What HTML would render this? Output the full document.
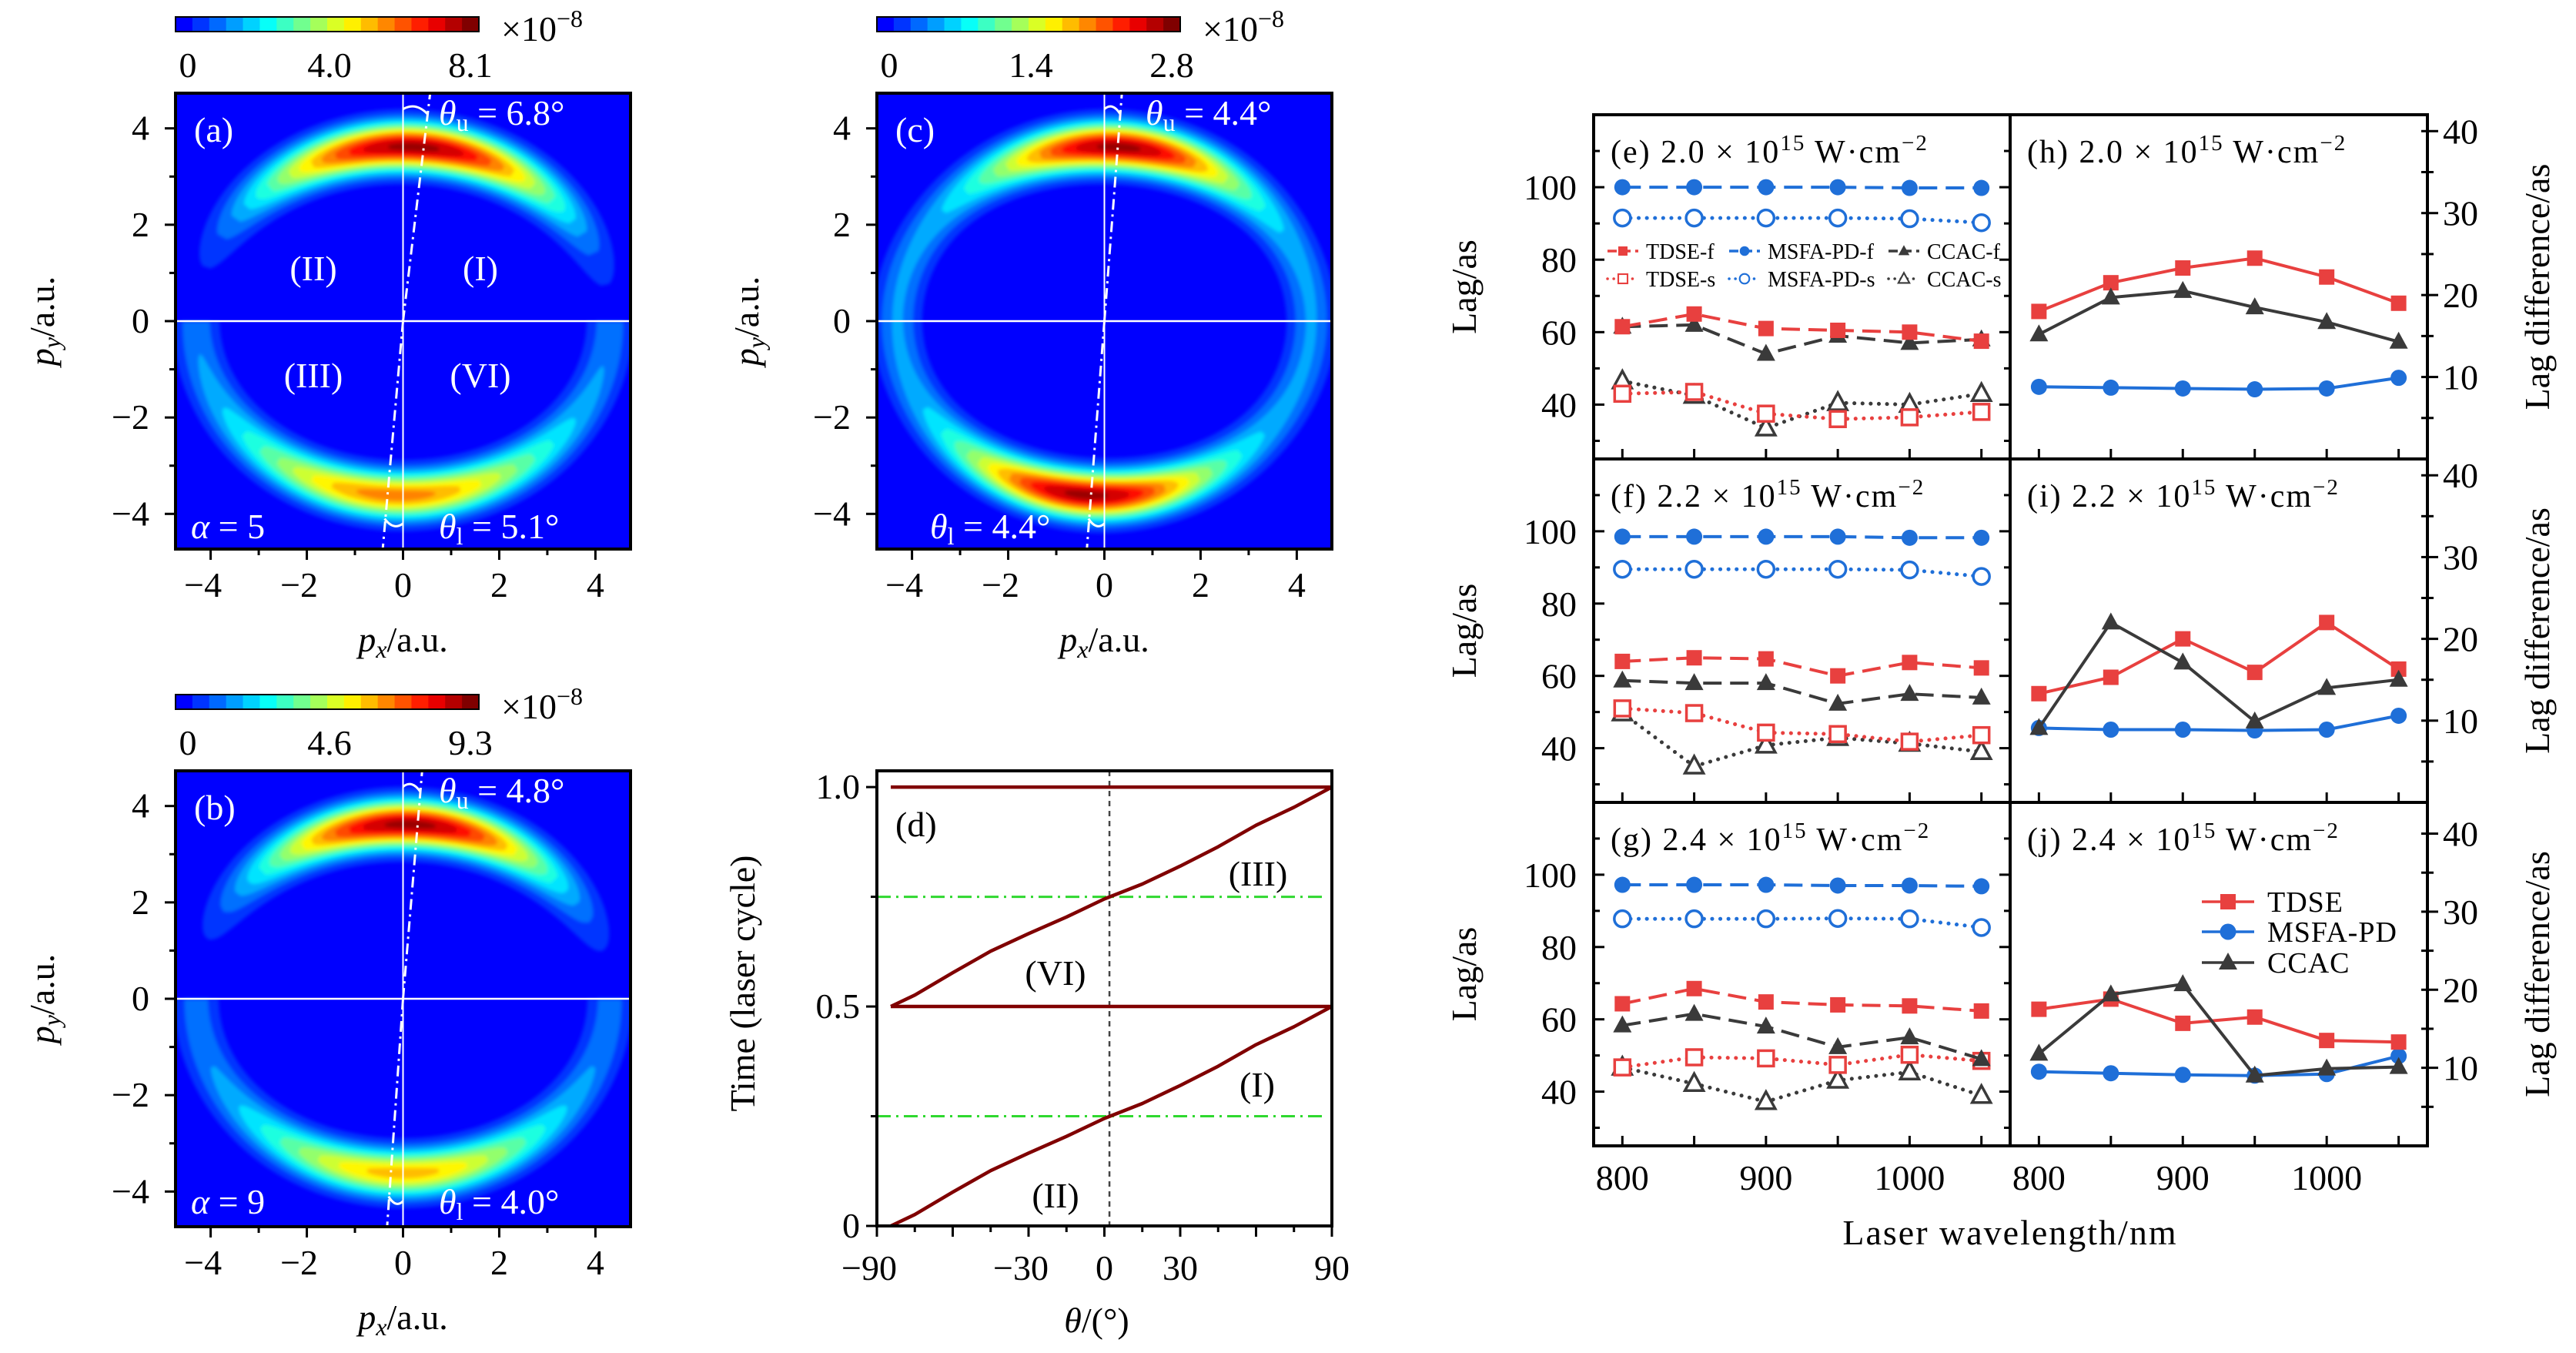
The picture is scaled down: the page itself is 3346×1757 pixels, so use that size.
<!DOCTYPE html>
<html><head><meta charset="utf-8">
<style>
html,body{margin:0;padding:0;background:#fff;}
svg{display:block;font-family:"Liberation Serif",serif;}
</style></head>
<body>
<svg id="root" xmlns="http://www.w3.org/2000/svg" width="3346" height="1757" viewBox="0 0 3346 1757">
<rect x="0" y="0" width="3346" height="1757" fill="#fff"/>
<defs>
<filter id="blr" x="-5%" y="-5%" width="110%" height="110%"><feGaussianBlur stdDeviation="2.5"/></filter>
<clipPath id="clipA"><rect x="228" y="121" width="591" height="592"/></clipPath>
<clipPath id="clipB"><rect x="228" y="1001" width="591" height="591"/></clipPath>
<clipPath id="clipC"><rect x="1139" y="121" width="591" height="592"/></clipPath>
</defs>
<g id="gA"></g>
<g id="gB"></g>
<g id="gC"></g>
<g id="gD"></g>
<g id="gR"></g>
</svg>
<script>
// ---------- data ----------
const wl=[800,850,900,950,1000,1050];
// (e)
const eTdseF=[61.5,65,61,60.5,60,57.5];
const eMsfaF=[100,100,100,100,99.8,99.8];
const eCcacF=[61.5,62,54,59,57,58];
const eTdseS=[43,43.5,37.5,36,36.5,38];
const eMsfaS=[91.5,91.5,91.5,91.5,91.3,90.2];
const eCcacS=[46.5,42.5,33.5,40.5,40,43];
// (f)
const fTdseF=[64,65,64.7,60,63.7,62.2];
const fMsfaF=[98.5,98.5,98.5,98.5,98.2,98.2];
const fCcacF=[58.7,58,58,52.3,55,54];
const fTdseS=[51,49.7,44.3,43.9,41.8,43.6];
const fMsfaS=[89.5,89.5,89.5,89.5,89.3,87.5];
const fCcacS=[49.7,35,40.8,42.9,41.3,39];
// (g)
const gTdseF=[64.3,68.5,64.8,64,63.7,62.3];
const gMsfaF=[97.2,97.2,97.2,97,97,96.8];
const gCcacF=[58.3,61.5,58,52.3,55,49];
const gTdseS=[46.7,49.5,49.2,47.4,50.2,48.5];
const gMsfaS=[87.8,87.8,87.8,87.9,87.8,85.4];
const gCcacS=[46.7,42.2,37.2,43.1,45.4,38.9];
// (h)(i)(j) lag differences
const hTdse=[18,21.5,23.3,24.5,22.2,19];
const hMsfa=[8.8,8.7,8.6,8.5,8.6,9.9];
const hCcac=[15.2,19.7,20.5,18.5,16.7,14.3];
const iTdse=[13.3,15.3,20,15.9,22,16.3];
const iMsfa=[9.1,8.9,8.9,8.8,8.9,10.6];
const iCcac=[9.1,22,17.1,9.9,14,15];
const jTdse=[17.5,18.8,15.7,16.5,13.5,13.3];
const jMsfa=[9.5,9.3,9.1,9,9.2,11.5];
const jCcac=[11.8,19.4,20.7,9,9.9,10.1];
const lagTicks=[40,60,80,100];
const diffTicks=[10,20,30,40];
const wlTicks=[800,900,1000];
// (d)
const dTheta=[-84.5,-75,-60,-45,-30,-15,0,15,30,45,60,75,90];
const dTime=[0,0.026,0.077,0.126,0.166,0.204,0.245,0.279,0.32,0.364,0.413,0.454,0.5];
const dThetaTicks=[-90,-30,0,30,90];
const dTimeTicks=[0,0.5,1.0];
// heatmap colorbar labels
const cbA=["0","4.0","8.1"], cbB=["0","4.6","9.3"], cbC=["0","1.4","2.8"];

const NS='http://www.w3.org/2000/svg';
function mk(tag,attrs,parent){const e=document.createElementNS(NS,tag);for(const k in attrs)e.setAttribute(k,attrs[k]);parent.appendChild(e);return e;}
function txt(parent,x,y,s,size,anchor,fill,extra){const t=mk('text',{x:x,y:y,'font-size':size,'text-anchor':anchor||'start',fill:fill||'#000'},parent);t.innerHTML=s;if(extra)for(const k in extra)t.setAttribute(k,extra[k]);return t;}
function jet(v){const c=x=>Math.max(0,Math.min(1,x));const r=c(1.5-Math.abs(4*v-3)),g=c(1.5-Math.abs(4*v-2)),b=c(1.5-Math.abs(4*v-1));return 'rgb('+Math.round(r*255)+','+Math.round(g*255)+','+Math.round(b*255)+')';}

// ---------- heatmaps ----------
function heatmap(g,o){
  const X0=o.x0,Y0=o.y0,W=591,H=592;
  const sx=W/9.46, sy=H/9.46;
  const X=v=>X0+(v+4.73)*sx, Y=v=>Y0+(4.73-v)*sy;
  const bg=mk('rect',{x:X0,y:Y0,width:W,height:H,fill:jet(0.125)},g);
  
  
  const hg=mk('g',{'clip-path':'url(#'+o.clip+')'},g);
  
  
  const inner=mk('g',{filter:'url(#blr)'},hg);
  const rx=4.3, ry=3.62, sig=0.33;
  const levels=[];for(let t=0.06;t<0.99;t+=0.065)levels.push(t);
  [[0,180,o.up],[180,360,o.lo]].forEach(arc=>{
    levels.forEach(t=>{
      const outer=[],inn=[];
      for(let a=arc[0];a<=arc[1];a+=1){
        const I=arc[2](a); if(I<=t)continue;
        const h=sig*Math.sqrt(2*Math.log(I/t));
        const r=a*Math.PI/180;
        outer.push([X((rx+h)*Math.cos(r)),Y((ry+h)*Math.sin(r))]);
        inn.push([X((rx-h)*Math.cos(r)),Y((ry-h)*Math.sin(r))]);
      }
      if(outer.length<2)return;
      const pts=outer.concat(inn.reverse()).map(p=>p[0].toFixed(1)+','+p[1].toFixed(1)).join(' ');
      const pg=mk('polygon',{points:pts,fill:jet(0.125+0.875*t)},inner);
      
      
    });
  });
  const l1=mk('line',{x1:X0,x2:X0+W,y1:Y(0),y2:Y(0),stroke:'#fff','stroke-width':2.5},hg);
  
  
  const l2=mk('line',{x1:X(0),x2:X(0),y1:Y0,y2:Y0+H,stroke:'#fff','stroke-width':2},hg);
  
  
  const tu=Math.tan(o.tu*Math.PI/180), tl=Math.tan(o.tl*Math.PI/180);
  const l3=mk('line',{x1:X(0),y1:Y(0),x2:X(4.8*tu),y2:Y(4.8),stroke:'#fff','stroke-width':3,'stroke-dasharray':'14,6,3,6'},hg);
  
  
  const l4=mk('line',{x1:X(0),y1:Y(0),x2:X(-4.8*tl),y2:Y(-4.8),stroke:'#fff','stroke-width':3,'stroke-dasharray':'14,6,3,6'},hg);
  
  
  const a1=mk('path',{d:'M'+X(0)+','+Y(4.4)+' Q'+X(2.2*tu)+','+Y(4.55)+' '+X(4.25*tu)+','+Y(4.3),fill:'none',stroke:'#fff','stroke-width':3},hg);
  
  
  const a2=mk('path',{d:'M'+X(0)+','+Y(-4.2)+' Q'+X(-2.2*tl)+','+Y(-4.35)+' '+X(-4.3*tl)+','+Y(-4.1),fill:'none',stroke:'#fff','stroke-width':3},hg);
  
  
  const fr=mk('rect',{x:X0,y:Y0,width:W,height:H,fill:'none',stroke:'#000','stroke-width':4},g);
  
  
  for(let v=-4;v<=4;v++){
    const L=(v%2===0)?14:8;
    const ty=mk('line',{x1:X0-L,x2:X0,y1:Y(v),y2:Y(v),stroke:'#000','stroke-width':3},g);
    
    
    const tx=mk('line',{x1:X(v),x2:X(v),y1:Y0+H,y2:Y0+H+L,stroke:'#000','stroke-width':3},g);
    
    
    if(v%2===0){
      const s=v<0?'−'+(-v):''+v;
      const yl=txt(g,X0-34,Y(v)+15,s,46,'end');
      
      
      const xl=txt(g,X(v)-(v<0?10:0),Y0+H+62,s,46,'middle');
      
      
    }
  }
  const xt=txt(g,X(0),Y0+H+133,'<tspan font-style="italic">p</tspan><tspan font-style="italic" font-size="32" dy="8">x</tspan><tspan dy="-8">/a.u.</tspan>',46,'middle');
  
  
  const yx=o.ytx, yy=Y0+H/2;
  const yt=txt(g,yx,yy,'<tspan font-style="italic">p</tspan><tspan font-style="italic" font-size="32" dy="8">y</tspan><tspan dy="-8">/a.u.</tspan>',46,'middle',null,{transform:'rotate(-90 '+yx+' '+yy+')'});
  
  
  const cg=mk('g',{},g);
  
  
  const cw=394, cy=Y0-99, ch=19, n=18;
  for(let i=0;i<n;i++){
    const c=mk('rect',{x:X0+i*cw/n,y:cy,width:cw/n+0.6,height:ch,fill:jet(0.125+0.875*i/(n-1))},cg);
    
    
  }
  const cf=mk('rect',{x:X0,y:cy,width:cw,height:ch,fill:'none',stroke:'#000','stroke-width':2},cg);
  
  
  const cx=[X0+16,X0+200,X0+383];
  o.cb.forEach((s,i)=>{
    const t=txt(cg,cx[i],cy+78,s,46,'middle');
    
    
  });
  const ex=txt(cg,X0+423,cy+31,'×10<tspan font-size="32" dy="-18">−8</tspan>',46,'start');
  
  
  o.labels.forEach(L=>{
    const t=txt(g,L[0],L[1],L[2],46,L[3]||'start','#fff');
    
    
  });
}
heatmap(document.getElementById('gA'),{x0:228,y0:121,clip:'clipA',ytx:70,tu:6.8,tl:5.1,cb:cbA,
  up:a=>1.0*Math.exp(-Math.pow((a-87)/45,2)),
  lo:a=>0.17+0.58*Math.exp(-Math.pow((a-268)/42,2)),
  labels:[[252,184,'(a)','start','panel-label'],[407,364,'(II)','middle','region-label'],[624,364,'(I)','middle','region-label'],
  [407,503,'(III)','middle','region-label'],[624,503,'(VI)','middle','region-label'],
  [570,162,'<tspan font-style="italic">θ</tspan><tspan font-size="32" dy="8">u</tspan><tspan dy="-8"> = 6.8°</tspan>','start','theta-u-label'],
  [248,699,'<tspan font-style="italic">α</tspan> = 5','start','alpha-label'],
  [570,699,'<tspan font-style="italic">θ</tspan><tspan font-size="32" dy="8">l</tspan><tspan dy="-8"> = 5.1°</tspan>','start','theta-l-label']]});
heatmap(document.getElementById('gB'),{x0:228,y0:1001,clip:'clipB',ytx:70,tu:4.8,tl:4.0,cb:cbB,
  up:a=>1.0*Math.exp(-Math.pow((a-88)/43,2)),
  lo:a=>0.16+0.52*Math.exp(-Math.pow((a-270)/40,2)),
  labels:[[252,1064,'(b)','start','panel-label'],
  [570,1042,'<tspan font-style="italic">θ</tspan><tspan font-size="32" dy="8">u</tspan><tspan dy="-8"> = 4.8°</tspan>','start','theta-u-label'],
  [248,1576,'<tspan font-style="italic">α</tspan> = 9','start','alpha-label'],
  [570,1576,'<tspan font-style="italic">θ</tspan><tspan font-size="32" dy="8">l</tspan><tspan dy="-8"> = 4.0°</tspan>','start','theta-l-label']]});
heatmap(document.getElementById('gC'),{x0:1139,y0:121,clip:'clipC',ytx:985,tu:4.4,tl:4.4,cb:cbC,
  up:a=>0.2+0.8*Math.exp(-Math.pow((a-86)/34,2)),
  lo:a=>0.2+0.8*Math.exp(-Math.pow((a-265)/34,2)),
  labels:[[1163,184,'(c)','start','panel-label'],
  [1488,162,'<tspan font-style="italic">θ</tspan><tspan font-size="32" dy="8">u</tspan><tspan dy="-8"> = 4.4°</tspan>','start','theta-u-label'],
  [1208,699,'<tspan font-style="italic">θ</tspan><tspan font-size="32" dy="8">l</tspan><tspan dy="-8"> = 4.4°</tspan>','start','theta-l-label']]});

// ---------- panel d ----------
(function(){
  const g=document.getElementById('gD');
  const x0=1139,x1=1730,y0=1001,y1=1592;
  const X=v=>x0+(v+90)/180*(x1-x0), Y=v=>y1-v/1.037*(y1-y0);
  const ln=(a,b,c,d,st,w,da,name)=>{const l=mk('line',{x1:a,y1:b,x2:c,y2:d,stroke:st,'stroke-width':w},g);if(da)l.setAttribute('stroke-dasharray',da);return l;};
  ln(x0,Y(0.25),x1-8,Y(0.25),'#2fd82f',3,'18,7,3,7','quarter-cycle-line');
  ln(x0,Y(0.75),x1-8,Y(0.75),'#2fd82f',3,'18,7,3,7','three-quarter-cycle-line');
  ln(X(2),y0,X(2),y1,'#444',2.5,'7,6','zero-angle-line');
  const mkCurve=(off,name)=>{
    const pts=dTheta.map((t,i)=>X(t).toFixed(1)+','+Y(dTime[i]+off).toFixed(1)).join(' ');
    const p=mk('polyline',{points:pts,fill:'none',stroke:'#800000','stroke-width':4.5,'stroke-linejoin':'round'},g);
    
    
  };
  mkCurve(0,'ionization-time-curve-lower');
  mkCurve(0.5,'ionization-time-curve-upper');
  ln(X(dTheta[0]),Y(0.5),x1,Y(0.5),'#800000',4.5,null,'half-cycle-line');
  ln(X(dTheta[0]),Y(1.0),x1,Y(1.0),'#800000',4.5,null,'full-cycle-line');
  const fr=mk('rect',{x:x0,y:y0,width:x1-x0,height:y1-y0,fill:'none',stroke:'#000','stroke-width':4},g);
  
  
  for(let v=-90;v<=90;v+=15){
    const L=(v%30===0)?14:8;
    ln(X(v),y1,X(v),y1+L,'#000',3,null,'x-tick');
  }
  dThetaTicks.forEach(v=>{
    const t=txt(g,X(v)-(v<0?10:0),y1+70,v<0?'−'+(-v):''+v,46,'middle');
    
    
  });
  [0,0.25,0.5,0.75,1.0].forEach(v=>ln(x0-((v*2)%1===0?14:8),Y(v),x0,Y(v),'#000',3,null,'y-tick'));
  dTimeTicks.forEach(v=>{
    const t=txt(g,x0-22,Y(v)+15,v===0?'0':v.toFixed(1),46,'end');
    
    
  });
  const xt=txt(g,(x0+x1)/2-10,1730,'<tspan font-style="italic">θ</tspan>/(°)',46,'middle');
  
  
  const yt=txt(g,980,1277,'Time (laser cycle)',46,'middle',null,{transform:'rotate(-90 980 1277)'});
  
  
  [[1163,1086,'(d)','panel-label'],[1634,1150,'(III)','region-label'],[1371,1279,'(VI)','region-label'],[1633,1424,'(I)','region-label'],[1371,1568,'(II)','region-label']].forEach(L=>{
    const t=txt(g,L[0],L[1],L[2],46,L[3]==='panel-label'?'start':'middle');
    
    
  });
})();

// ---------- right lag panels ----------
const RED='#e8403f',BLUE='#1f6fd8',DARK='#3a3a3a';
function marker(g,x,y,type,color,filled){
  let m;
  if(type==='sq') m=mk('rect',{x:x-10,y:y-10,width:20,height:20},g);
  else if(type==='ci') m=mk('circle',{cx:x,cy:y,r:10.5},g);
  else m=mk('polygon',{points:(x)+','+(y-13)+' '+(x-12)+','+(y+9)+' '+(x+12)+','+(y+9)},g);
  if(filled){m.setAttribute('fill',color);}else{m.setAttribute('fill','#fff');m.setAttribute('stroke',color);m.setAttribute('stroke-width',3.5);}
  return m;
}
function lagPanel(g,b,ydom,series,title,side){
  const X=v=>b.x0+(v-780)/290*(b.x1-b.x0);
  const Y=v=>b.y1-(v-ydom[0])/(ydom[1]-ydom[0])*(b.y1-b.y0);
  series.forEach(s=>{
    const pts=wl.map((w,i)=>X(w).toFixed(1)+','+Y(s.v[i]).toFixed(1)).join(' ');
    const p=mk('polyline',{points:pts,fill:'none',stroke:s.c,'stroke-width':s.dash==='dot'?5:4,'stroke-linecap':s.dash==='dot'?'round':'butt'},g);
    if(s.dash==='dash')p.setAttribute('stroke-dasharray','24,11');
    if(s.dash==='dot')p.setAttribute('stroke-dasharray','0.1,10.5');
    
    
    wl.forEach((w,i)=>{
      const m=marker(g,X(w),Y(s.v[i]),s.m,s.c,s.f);
      
      
    });
  });
  const fr=mk('rect',{x:b.x0,y:b.y0,width:b.x1-b.x0,height:b.y1-b.y0,fill:'none',stroke:'#000','stroke-width':4},g);
  
  
  const tk=(a,c,d,e,name)=>{const l=mk('line',{x1:a,y1:c,x2:d,y2:e,stroke:'#000','stroke-width':3},g);};
  wl.forEach(w=>tk(X(w),b.y1,X(w),b.y1-13,'x-tick'));
  if(side==='left'){
    for(let v=30;v<=110;v+=10){const L=v%20===0?14:8;tk(b.x0,Y(v),b.x0+L,Y(v),'y-tick');tk(b.x1,Y(v),b.x1-L,Y(v),'y-tick');}
    lagTicks.forEach(v=>{const t=txt(g,b.x0-22,Y(v)+16,''+v,46,'end');});
  }else{
    for(let v=5;v<=ydom[1];v+=5){const L=v%10===0?14:8;tk(b.x1,Y(v),b.x1+L,Y(v),'y-tick');tk(b.x1,Y(v),b.x1-8,Y(v),'y-tick');}
    diffTicks.forEach(v=>{const t=txt(g,b.x1+20,Y(v)+16,''+v,46,'start');});
  }
  const tt=txt(g,b.x0+22,b.y0+62,title,42,'start',null,{'letter-spacing':'2'});
  
  
}
function ttl(l,v){return '('+l+')  '+v+' × 10<tspan font-size="29" dy="-16">15</tspan><tspan dy="16">  W·cm</tspan><tspan font-size="29" dy="-16">−2</tspan>';}
(function(){
  const g=document.getElementById('gR');
  const rows=[[149,596],[596,1042],[1042,1488]];
  const L={x0:2070,x1:2611},R={x0:2611,x1:3153};
  const lset=[[eTdseF,eMsfaF,eCcacF,eTdseS,eMsfaS,eCcacS],[fTdseF,fMsfaF,fCcacF,fTdseS,fMsfaS,fCcacS],[gTdseF,gMsfaF,gCcacF,gTdseS,gMsfaS,gCcacS]];
  const rset=[[hTdse,hMsfa,hCcac],[iTdse,iMsfa,iCcac],[jTdse,jMsfa,jCcac]];
  const ints=['2.0','2.2','2.4'];
  rows.forEach((r,k)=>{
    const gl=mk('g',{},g);
    
    
    const d=lset[k];
    lagPanel(gl,{x0:L.x0,x1:L.x1,y0:r[0],y1:r[1]},[25,120],[
      {v:d[4],c:BLUE,dash:'dot',m:'ci',f:false,n:'msfa-pd-s'},
      {v:d[1],c:BLUE,dash:'dash',m:'ci',f:true,n:'msfa-pd-f'},
      {v:d[5],c:DARK,dash:'dot',m:'tr',f:false,n:'ccac-s'},
      {v:d[3],c:RED,dash:'dot',m:'sq',f:false,n:'tdse-s'},
      {v:d[2],c:DARK,dash:'dash',m:'tr',f:true,n:'ccac-f'},
      {v:d[0],c:RED,dash:'dash',m:'sq',f:true,n:'tdse-f'}],ttl('efg'[k],ints[k]),'left');
    const gr=mk('g',{},g);
    
    
    const e=rset[k];
    lagPanel(gr,{x0:R.x0,x1:R.x1,y0:r[0],y1:r[1]},[0,k===2?44:42],[
      {v:e[1],c:BLUE,dash:'solid',m:'ci',f:true,n:'msfa-pd'},
      {v:e[0],c:RED,dash:'solid',m:'sq',f:true,n:'tdse'},
      {v:e[2],c:DARK,dash:'solid',m:'tr',f:true,n:'ccac'}],ttl('hij'[k],ints[k]),'right');
    const yc=(r[0]+r[1])/2;
    const t1=txt(g,1917,yc,'Lag/as',46,'middle',null,{transform:'rotate(-90 1917 '+yc+')'});
    
    
    const t2=txt(g,3311,yc,'Lag difference/as',46,'middle',null,{transform:'rotate(-90 3311 '+yc+')'});
    
    
  });
  [L,R].forEach(b=>wlTicks.forEach(w=>{
    const t=txt(g,b.x0+(w-780)/290*(b.x1-b.x0),1545,''+w,46,'middle');
    
    
  }));
  const xt=txt(g,2611,1616,'Laser wavelength/nm',46,'middle',null,{'letter-spacing':'2'});
  
  
  const lg=mk('g',{},g);
  
  
  const items=[[2088,326,RED,'sq',true,'TDSE-f','dash'],[2246,326,BLUE,'ci',true,'MSFA-PD-f','dash'],[2453,326,DARK,'tr',true,'CCAC-f','dash'],
    [2088,362,RED,'sq',false,'TDSE-s','dot'],[2246,362,BLUE,'ci',false,'MSFA-PD-s','dot'],[2453,362,DARK,'tr',false,'CCAC-s','dot']];
  items.forEach(it=>{
    const ln=mk('line',{x1:it[0],x2:it[0]+40,y1:it[1],y2:it[1],stroke:it[2],'stroke-width':3.5},lg);
    if(it[6]==='dot'){ln.setAttribute('stroke-dasharray','0.1,8');ln.setAttribute('stroke-linecap','round');}
    else ln.setAttribute('stroke-dasharray','12,6');
    
    
    const m=marker(lg,it[0]+20,it[1],it[3],it[2],it[4]);
    m.setAttribute('transform','translate('+(it[0]+20)+','+it[1]+') scale(0.6) translate('+(-(it[0]+20))+','+(-it[1])+')');
    
    
    const t=txt(lg,it[0]+50,it[1]+10,it[5],28,'start');
    
    
  });
  const lj=mk('g',{},g);
  
  
  [[1171,RED,'sq','TDSE'],[1210,BLUE,'ci','MSFA-PD'],[1250,DARK,'tr','CCAC']].forEach(it=>{
    const ln=mk('line',{x1:2860,x2:2928,y1:it[0],y2:it[0],stroke:it[1],'stroke-width':3.5},lj);
    
    
    const m=marker(lj,2894,it[0],it[2],it[1],true);
    
    
    const t=txt(lj,2945,it[0]+13,it[3],38,'start',null,{'letter-spacing':'1'});
    
    
  });
})();
</script>
</body></html>
